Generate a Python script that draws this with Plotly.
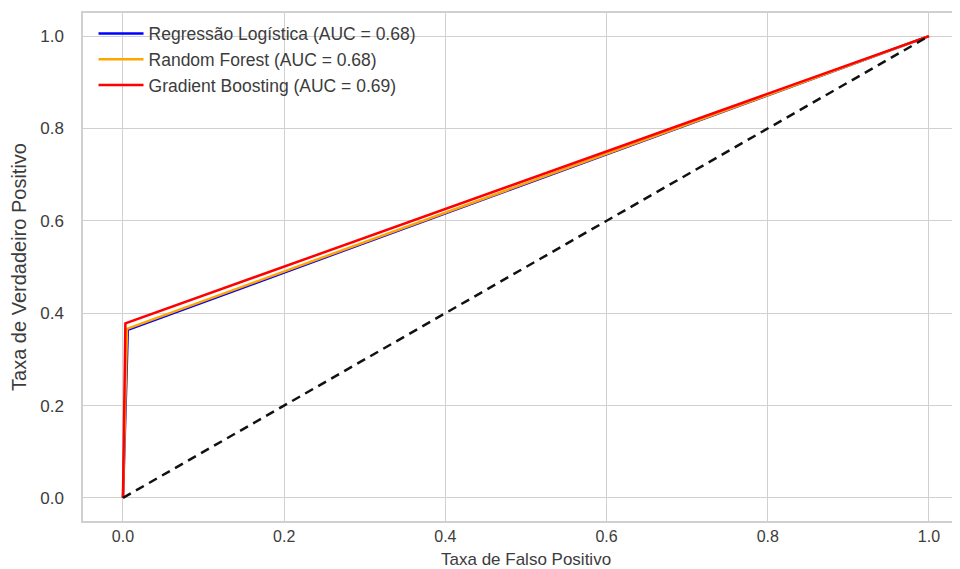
import plotly.graph_objects as go

# ROC curve points
names = ["Regressão Logística (AUC = 0.68)", "Random Forest (AUC = 0.68)", "Gradient Boosting (AUC = 0.69)"]
colors = ["blue", "orange", "red"]
fpr_lr = [0.0, 0.006, 1.0]
tpr_lr = [0.0, 0.364, 1.0]
fpr_rf = [0.0, 0.005, 1.0]
tpr_rf = [0.0, 0.366, 1.0]
fpr_gb = [0.0, 0.003, 1.0]
tpr_gb = [0.0, 0.378, 1.0]
diag_x = [0.0, 1.0]
diag_y = [0.0, 1.0]
tick_vals = [0.0, 0.2, 0.4, 0.6, 0.8, 1.0]
tick_text = ["0.0", "0.2", "0.4", "0.6", "0.8", "1.0"]
x_title = "Taxa de Falso Positivo"
y_title = "Taxa de Verdadeiro Positivo"

fig = go.Figure()
for fx, ty, nm, col in zip([fpr_lr, fpr_rf, fpr_gb], [tpr_lr, tpr_rf, tpr_gb], names, colors):
    fig.add_trace(go.Scatter(x=fx, y=ty, mode="lines", name=nm,
                             line=dict(color=col, width=2.5)))
fig.add_trace(go.Scatter(x=diag_x, y=diag_y, mode="lines", showlegend=False,
                         line=dict(color="#111111", width=2.5, dash="9px,6px")))

txt = "#3c3c3c"
grid = "#d0d0d0"
# the page has an 8px body margin, so the figure is sized to 952x561
fig.update_layout(
    width=952, height=561,
    margin=dict(l=75, r=0, t=5, b=48, autoexpand=False),
    paper_bgcolor="white", plot_bgcolor="white",
    font=dict(family="Liberation Sans, Arial, sans-serif", color=txt, size=16),
    legend=dict(x=0.012, y=0.995, xanchor="left", yanchor="top",
                bgcolor="rgba(0,0,0,0)", font=dict(size=17.5, color=txt),
                itemwidth=45, tracegroupgap=0),
    showlegend=True,
)
fig.add_annotation(text=x_title, xref="x", x=0.5, yref="paper", y=-0.0758,
                   xanchor="center", yanchor="middle", showarrow=False,
                   font=dict(size=17, color=txt))
fig.update_xaxes(range=[-0.0496, 1.0385], tickvals=tick_vals, ticktext=tick_text,
                 showgrid=True, gridcolor=grid, gridwidth=1.2, zeroline=False,
                 showline=True, linecolor=grid, linewidth=1.5, mirror=True,
                 ticks="", ticklabelstandoff=0, tickfont=dict(size=16, color=txt),
                 automargin=False)
fig.update_yaxes(range=[-0.05, 1.05], tickvals=tick_vals, ticktext=tick_text,
                 showgrid=True, gridcolor=grid, gridwidth=1.2, zeroline=False,
                 showline=True, linecolor=grid, linewidth=1.5,
                 ticks="", ticklabelstandoff=14, tickfont=dict(size=17, color=txt),
                 automargin=False,
                 title=dict(text=y_title, font=dict(size=20, color=txt)))

fig.write_html("out.html")
